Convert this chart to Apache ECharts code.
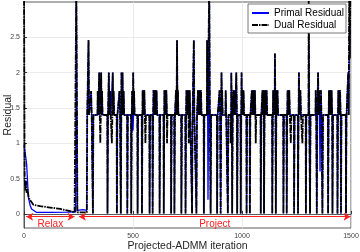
<!DOCTYPE html>
<html><head><meta charset="utf-8">
<script src="https://cdn.jsdelivr.net/npm/echarts@6/dist/echarts.min.js"></script>
<style>html,body{margin:0;padding:0;background:#fff}#c{width:360px;height:252px}</style>
</head><body><div id="c"></div>
<script>
// ---- data ----
const xTicks = [0, 500, 1000, 1500];
const yTicks = [0, 0.5, 1, 1.5, 2, 2.5];
const yTickLabels = ['0', '0.5', '1', '1.5', '2', '2.5'];

// relax phase (iteration, value)
const primalRelax = [[0,0.97],[6,0.85],[12,0.71],[20,0.24],[28,0.12],[35,0.07],[58,0.02],[120,0.02],[200,0.025],[237,0.03],[240,3.3],[242,3.3],[245,0.05],[270,0.06],[288,0.05]];
const dualRelax = [[0,3.3],[3,0.5],[6,0.33],[9,0.47],[12,0.3],[16,0.35],[22,0.22],[28,0.2],[43,0.13],[74,0.11],[120,0.09],[166,0.07],[212,0.04],[232,0.02],[237,0.02],[240,3.3],[242,3.3],[245,0.02],[288,0.02]];

// project phase
const baseLevel = 1.4;
const deepDips = [316,383,426,444,474,492,521,541,576,590,622,641,675,690,722,741,771,791,825,856,886,902,935,955,978,994,1021,1036,1086,1101,1139,1155,1190,1205,1239,1257,1293,1312,1343,1369,1395,1415,1438,1454,1477];
const shallowDips = [350,403,557,656,756,948,1063,1224,1277];
const shallowLevel = 1.0;
const primalOnlyDips = [[500,1.18],[844,0.2],[1358,0.6]];
const dualSpikes = [[296,2.46],[308,1.74],[338,1.74],[345,2.0],[354,2.0],[358,1.74],[389,2.0],[395,1.74],[407,2.0],[411,1.74],
  [438,1.74],[447,2.0],[452,2.0],[457,1.74],[496,1.74],[501,2.0],[505,1.74],
  [544,1.75],[548,1.75],[552,1.75],[594,1.75],[599,1.75],[604,1.75],[608,1.75],
  [644,1.75],[649,1.75],[653,1.75],[697,1.75],[702,2.46],[706,1.75],
  [745,1.75],[749,1.75],[752,1.75],[760,1.75],[779,2.46],[798,1.75],[803,1.75],[808,1.75],[812,1.75],
  [840,2.46],[850,3.3],[897,1.75],[906,2.0],[909,1.75],[925,1.75],[951,2.0],[961,1.75],[966,1.75],[974,2.0],
  [998,2.0],[1003,1.75],[1007,1.75],[1045,1.75],[1050,1.75],[1055,1.75],[1059,1.75],
  [1094,1.75],[1097,1.75],[1105,1.75],[1109,1.75],[1113,1.75],
  [1143,1.75],[1147,1.75],[1151,2.27],[1159,1.75],[1163,1.75],[1209,1.75],[1213,1.75],[1217,1.75],
  [1261,2.0],[1264,1.75],[1268,1.75],[1306,3.3],[1338,1.75],[1349,2.0],[1353,1.75],[1362,1.75],
  [1399,1.75],[1403,1.75],[1408,1.75],[1411,1.75],[1442,1.75],[1446,1.75],[1450,1.75],[1487,2.0]];
const primalSpikeOverride = [[1306,2.6]];
const projectStart = 290;
const projectEnd = 1491;
const primalTail = [[1493,2.66],[1500,2.66]];
const dualTail = [[1492,3.3],[1495,2.2],[1497,3.3],[1500,3.0]];

// ---- build polylines from the read events ----
function build(relax, events, tail) {
  const pts = relax.slice();
  pts.push([projectStart, baseLevel]);
  events.sort((a, b) => a[0] - b[0]);
  for (const [i, v] of events) {
    pts.push([i - 1, baseLevel], [i, v], [i + 1.5, v], [i + 2.5, baseLevel]);
  }
  pts.push([projectEnd, baseLevel]);
  return pts.concat(tail);
}
const ovr = new Map(primalSpikeOverride.map(d => [d[0], d[1]]));
const primalEvents = [
  ...dualSpikes.map(d => [d[0], ovr.has(d[0]) ? ovr.get(d[0]) : d[1]]),
  ...deepDips.map(i => [i, 0.005]),
  ...primalOnlyDips
];
const dualEvents = [
  ...dualSpikes,
  ...deepDips.map(i => [i, 0.005]),
  ...shallowDips.map(i => [i, shallowLevel])
];
const primalData = build(primalRelax, primalEvents, primalTail);
const dualData = build(dualRelax, dualEvents, dualTail);

const chart = echarts.init(document.getElementById('c'), null, {renderer: 'canvas'});
chart.setOption({
  animation: false,
  backgroundColor: '#fff',
  grid: {left: 24, right: 9, top: 2, bottom: 24, show: true, borderColor: '#333', borderWidth: 0.8,
    outerBoundsMode: 'none', containLabel: false},
  legend: {
    orient: 'vertical', left: 248, top: 4,
    itemStyle: {opacity: 0},
    backgroundColor: '#fff', borderColor: '#555', borderWidth: 0.8,
    padding: [4, 2, 3, 3], itemGap: 2, itemWidth: 17, itemHeight: 10,
    textStyle: {fontSize: 10, color: '#000', fontFamily: 'Liberation Sans', width: 68, overflow: 'none'},
    data: ['Primal Residual', 'Dual Residual']
  },
  xAxis: {
    type: 'value', min: 0, max: 1500, interval: 500,
    name: 'Projected-ADMM iteration', nameLocation: 'middle', nameGap: 13, nameMoveOverlap: false,
    nameTextStyle: {fontSize: 10.5, color: '#262626', fontFamily: 'Liberation Sans'},
    axisLine: {lineStyle: {color: '#333', width: 0.8}},
    axisTick: {inside: true, length: 3, lineStyle: {color: '#333'}},
    axisLabel: {fontSize: 7, color: '#444', margin: 5, fontFamily: 'Liberation Sans', formatter: v => String(v)},
    splitLine: {show: true, lineStyle: {color: '#e6e6e6', width: 0.8}}
  },
  yAxis: {
    type: 'value', min: -0.2, max: 3,
    name: 'Residual', nameLocation: 'middle', nameGap: 10, nameMoveOverlap: false,
    nameTextStyle: {fontSize: 10.5, color: '#262626', fontFamily: 'Liberation Sans'},
    axisLine: {show: true, lineStyle: {color: '#333', width: 0.8}},
    axisTick: {show: true, inside: true, length: 3, customValues: yTicks, lineStyle: {color: '#333'}},
    axisLabel: {fontSize: 7, color: '#444', margin: 4, customValues: yTicks,
      formatter: v => yTickLabels[yTicks.indexOf(+(+v).toFixed(2))] ?? '', fontFamily: 'Liberation Sans'},
    splitLine: {show: true, lineStyle: {color: '#e6e6e6', width: 0.8}}
  },
  series: [
    {
      name: 'Primal Residual', type: 'line', data: primalData,
      symbol: 'none', showSymbol: false,
      lineStyle: {color: '#0000ff', width: 1.3}, itemStyle: {color: '#0000ff'},
      z: 2,
      markLine: {
        silent: true, symbol: ['arrow', 'arrow'], symbolSize: [6, 7],
        lineStyle: {color: '#ff2020', type: 'solid', width: 1},
        label: {show: true, position: 'insideMiddleBottom', color: '#ff2020', fontSize: 10, distance: 3, fontFamily: 'Liberation Sans'},
        data: [
          [{coord: [10, -0.04], name: 'Relax'}, {coord: [232, -0.04]}],
          [{coord: [252, -0.04], name: 'Project'}, {coord: [1498, -0.04]}]
        ]
      }
    },
    {
      name: 'Dual Residual', type: 'line', data: dualData,
      symbol: 'none', showSymbol: false,
      lineStyle: {color: '#000', width: 1.8, type: [6, 1, 1.5, 1]}, itemStyle: {color: '#000'},
      z: 3
    }
  ]
});
</script></body></html>
